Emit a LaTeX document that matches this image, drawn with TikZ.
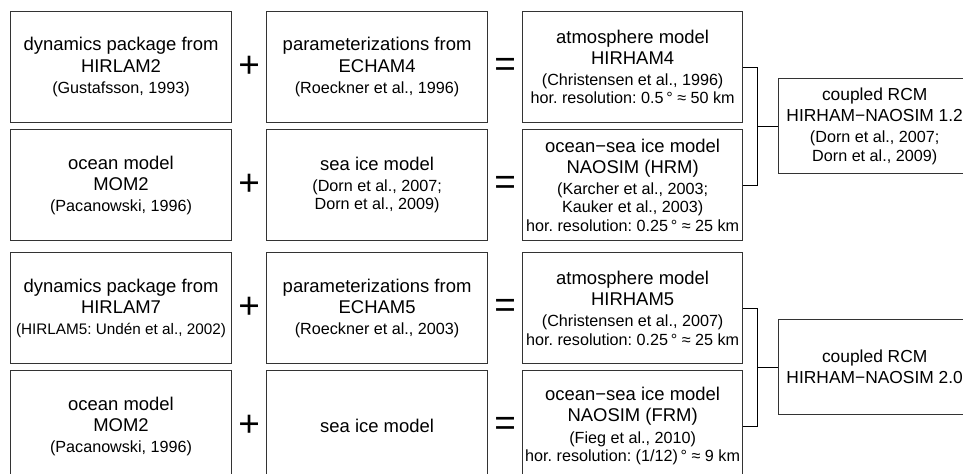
\documentclass[tikz,border=0pt]{standalone}
\usepackage{fontspec}
\setmainfont{Liberation Sans}
\usepackage{tikz}
\usetikzlibrary{positioning, calc}
\frenchspacing
\newcommand{\refsize}{\fontsize{9.2}{10.8}\selectfont}

\begin{document}
\begin{tikzpicture}[font=\fontsize{10.5}{12}\selectfont, node distance=0.12cm and 0.68cm,
    box/.style={draw=black!80, line width=0.6pt, minimum width=4.42cm, minimum height=2.22cm, align=center, inner sep=0pt},
    sign/.style={font=\fontsize{21}{21}\selectfont, inner sep=0pt},
    rcm/.style={draw=black!80, line width=0.6pt, minimum width=3.84cm, minimum height=1.9cm, align=center, inner sep=0pt, font=\fontsize{9.9}{12}\selectfont},
    link/.style={draw=black, line width=0.6pt}]
    \useasboundingbox (0,0) rectangle (19.26,-9.46);
    % HIRHAM-NAOSIM 1.2
    \node[box, anchor=north west] (dyn2) at (0.2,-0.22) {dynamics package from\\HIRLAM2\\{\refsize(Gustafsson, 1993)}};
    \node[box, right=of dyn2] (par4) {parameterizations from\\ECHAM4\\{\refsize(Roeckner et al., 1996)}};
    \node[box, minimum width=4.4cm, right=of par4] (atm4) {atmosphere model\\HIRHAM4\\{\refsize(Christensen et al., 1996)}\\[-1.5pt]{\refsize hor. resolution: 0.5\,° ≈ 50 km}};
    \node[box, below=of dyn2] (mom1) {ocean model\\MOM2\\{\refsize(Pacanowski, 1996)}};
    \node[box, below=of par4] (ice1) {sea ice model\\{\refsize(Dorn et al., 2007;}\\[-1.5pt]{\refsize Dorn et al., 2009)}};
    \node[box, minimum width=4.4cm, below=of atm4] (hrm) {ocean−sea ice model\\NAOSIM (HRM)\\{\refsize(Karcher et al., 2003;}\\[-1.5pt]{\refsize Kauker et al., 2003)}\\[-1.5pt]{\refsize hor. resolution: 0.25\,° ≈ 25 km}};
    % HIRHAM-NAOSIM 2.0
    \node[box, below=0.22cm of mom1] (dyn7) {dynamics package from\\HIRLAM7\\{\fontsize{8.7}{10.8}\selectfont(HIRLAM5: Undén et al., 2002)}};
    \node[box, right=of dyn7] (par5) {parameterizations from\\ECHAM5\\{\refsize(Roeckner et al., 2003)}};
    \node[box, minimum width=4.4cm, right=of par5] (atm5) {atmosphere model\\HIRHAM5\\{\refsize(Christensen et al., 2007)}\\[-1.5pt]{\refsize hor. resolution: 0.25\,° ≈ 25 km}};
    \node[box, below=of dyn7] (mom2) {ocean model\\MOM2\\{\refsize(Pacanowski, 1996)}};
    \node[box, below=of par5] (ice2) {sea ice model};
    \node[box, minimum width=4.4cm, below=of atm5] (frm) {ocean−sea ice model\\NAOSIM (FRM)\\{\refsize(Fieg et al., 2010)}\\[-1.5pt]{\refsize hor. resolution: (1/12)\,° ≈ 9 km}};

    \node[sign] (p1) at ($(dyn2.east)!0.5!(par4.west)$) {+};
    \node[sign] (e1) at ($(par4.east)!0.5!(atm4.west)$) {=};
    \node[sign] (p2) at ($(mom1.east)!0.5!(ice1.west)$) {+};
    \node[sign] (e2) at ($(ice1.east)!0.5!(hrm.west)$) {=};
    \node[sign] (p3) at ($(dyn7.east)!0.5!(par5.west)$) {+};
    \node[sign] (e3) at ($(par5.east)!0.5!(atm5.west)$) {=};
    \node[sign] (p4) at ($(mom2.east)!0.5!(ice2.west)$) {+};
    \node[sign] (e4) at ($(ice2.east)!0.5!(frm.west)$) {=};

    \coordinate (j1) at ($($(atm4.east)!0.5!(hrm.east)$)+(0.28,0)$);
    \coordinate (j2) at ($($(atm5.east)!0.5!(frm.east)$)+(0.28,0)$);
    \node[rcm, right=0.42cm of j1] (rcm12) {coupled RCM\\HIRHAM−NAOSIM 1.2\\{\refsize(Dorn et al., 2007;}\\[-1.5pt]{\refsize Dorn et al., 2009)}};
    \node[rcm, right=0.42cm of j2] (rcm20) {coupled RCM\\HIRHAM−NAOSIM 2.0};

    \draw[link] (atm4.east) -- (atm4.east -| j1) -- (hrm.east -| j1) -- (hrm.east);
    \draw[link] (j1) -- (rcm12.west);
    \draw[link] (atm5.east) -- (atm5.east -| j2) -- (frm.east -| j2) -- (frm.east);
    \draw[link] (j2) -- (rcm20.west);
\end{tikzpicture}
\end{document}
